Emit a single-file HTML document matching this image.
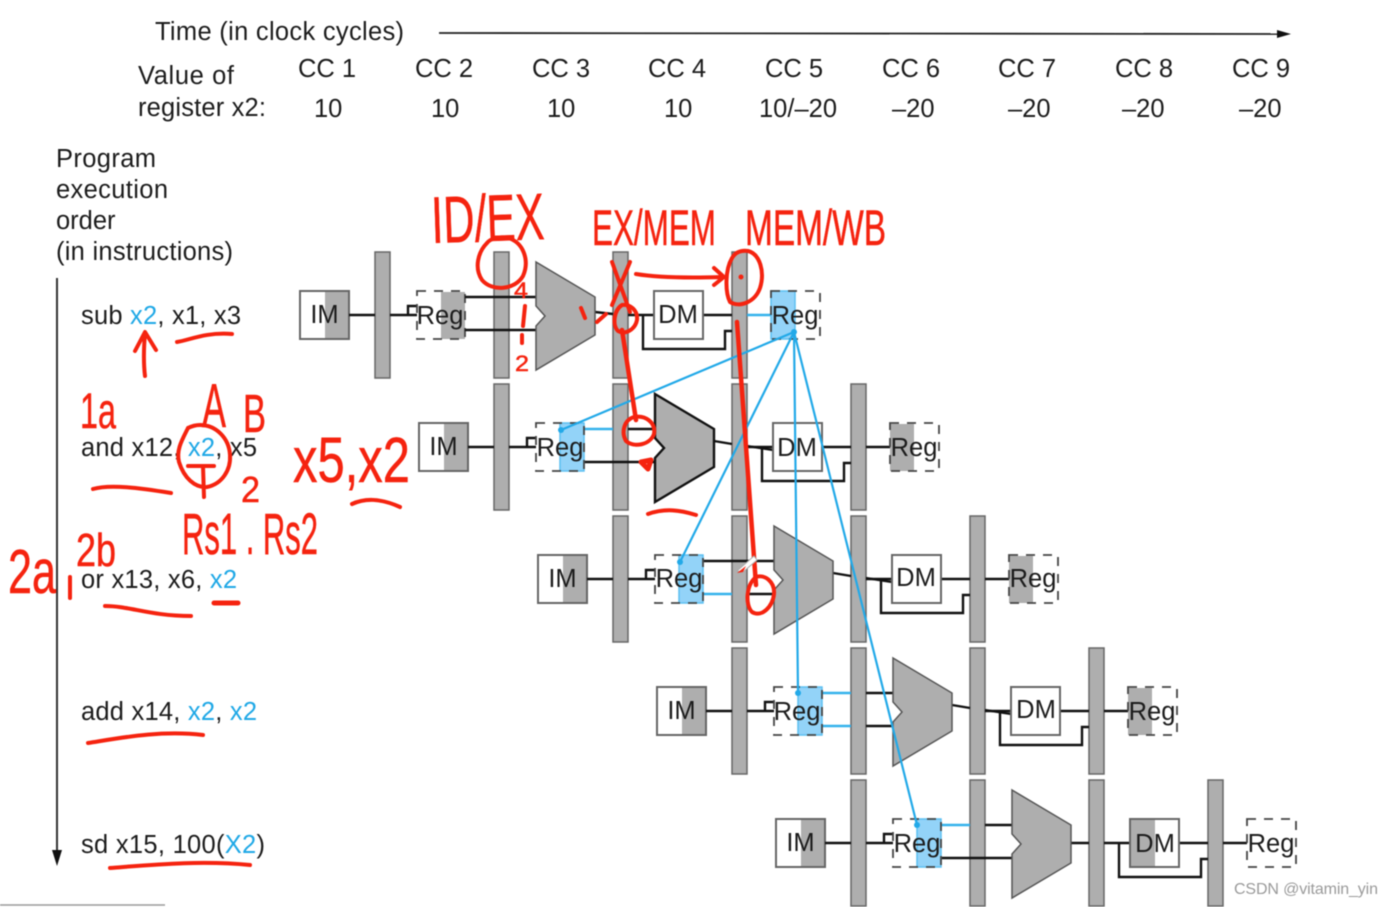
<!DOCTYPE html>
<html><head><meta charset="utf-8"><style>
html,body{margin:0;padding:0;background:#fff;width:1392px;height:907px;overflow:hidden}
svg{display:block;filter:blur(.5px)}
text{font-family:"Liberation Sans",sans-serif;font-size:25.5px;fill:#1c1c1c}
.b{fill:#1fa8e6}
.w{fill:#fff;stroke:#666;stroke-width:2}
.g{fill:#aeaeae}
.bar{fill:#aeaeae;stroke:#666;stroke-width:1.5}
.dash{fill:none;stroke:#444;stroke-width:1.8;stroke-dasharray:9 8}
.l{fill:none;stroke:#111;stroke-width:2.4}
.bl{fill:none;stroke:#35b2ec;stroke-width:2.4}
.blue{fill:#93d3f8;stroke:#5cc0f2;stroke-width:1.5}
.alu{fill:#aeaeae;stroke:#555;stroke-width:1.5}
.r{fill:none;stroke:#f5230f;stroke-width:4;stroke-linecap:round;stroke-linejoin:round}
.hw text{fill:#f5230f;stroke:#f5230f;stroke-width:.5}
</style></head><body>
<svg width="1392" height="907" viewBox="0 0 1392 907" xmlns="http://www.w3.org/2000/svg">
<defs>
<g id="bars">
<rect class="bar" x="375" y="252" width="15" height="126"/>
<rect class="bar" x="494" y="252" width="15" height="126"/>
<rect class="bar" x="613" y="252" width="15" height="126"/>
<rect class="bar" x="732" y="252" width="15" height="126"/>
</g>
<g id="im">
<rect class="w" x="300" y="291" width="49" height="48"/>
<rect class="g" x="325" y="292" width="23" height="46"/>
<path class="l" d="M349 315H375M390 315H417M408 315V306H417"/>
</g>
<g id="tail">
<path class="l" d="M628 315H654M703 315H732M643 315V349H725V331H732"/>
</g>
<path id="alushape" class="alu" d="M536 262L595 297V335L536 370V326L545 316L536 306Z"/>
</defs>

<!-- header -->
<text x="155" y="40" textLength="249">Time (in clock cycles)</text>
<path d="M439 33L1280 34" stroke="#222" stroke-width="1.8"/>
<path d="M1291 34L1277 30V38Z" fill="#111"/>
<text x="138" y="84" textLength="96">Value of</text>
<text x="138" y="116" textLength="128">register x2:</text>
<text x="298" y="77">CC 1</text><text x="415" y="77">CC 2</text><text x="532" y="77">CC 3</text>
<text x="648" y="77">CC 4</text><text x="765" y="77">CC 5</text><text x="882" y="77">CC 6</text>
<text x="998" y="77">CC 7</text><text x="1115" y="77">CC 8</text><text x="1232" y="77">CC 9</text>
<text x="314" y="117">10</text><text x="431" y="117">10</text><text x="547" y="117">10</text><text x="664" y="117">10</text>
<text x="759" y="117" textLength="78">10/–20</text>
<text x="892" y="117">–20</text><text x="1008" y="117">–20</text><text x="1122" y="117">–20</text><text x="1239" y="117">–20</text>

<text x="56" y="167" textLength="100">Program</text><text x="56" y="198" textLength="112">execution</text><text x="56" y="229">order</text>
<text x="56" y="260" textLength="177">(in instructions)</text>
<path d="M57 278V855" stroke="#333" stroke-width="2"/>
<path d="M57 866L52 850H62Z" fill="#111"/>
<path d="M0 905H165" stroke="#999" stroke-width="1.5"/>

<text x="81" y="324" textLength="160">sub <tspan class="b">x2</tspan>, x1, x3</text>
<text x="81" y="456" textLength="176">and x12, <tspan class="b">x2</tspan>, x5</text>
<text x="81" y="588" textLength="156">or x13, x6, <tspan class="b">x2</tspan></text>
<text x="81" y="720" textLength="176">add x14, <tspan class="b">x2</tspan>, <tspan class="b">x2</tspan></text>
<text x="81" y="853" textLength="184">sd x15, 100(<tspan class="b">X2</tspan>)</text>

<!-- row 1 -->
<g>
<use href="#bars"/><use href="#im"/>
<rect class="g" x="441" y="292" width="24" height="47"/>
<rect class="dash" x="417" y="291" width="48" height="48"/>
<path class="l" d="M465 297H536M465 330H536M595 312L613 314"/>
<use href="#tail"/>
<use href="#alushape"/>
<rect class="w" x="654" y="291" width="49" height="48"/>
<path class="bl" d="M747 315H771"/>
<rect class="blue" x="771" y="291" width="24" height="48"/>
<rect class="dash" x="771" y="291" width="49" height="48"/>
<text x="324.5" y="323" text-anchor="middle">IM</text>
<text x="440" y="324" text-anchor="middle">Reg</text>
<text x="678" y="323" text-anchor="middle">DM</text>
<text x="795" y="324" text-anchor="middle">Reg</text>
</g>
<!-- row 2 -->
<g transform="translate(119 132)">
<use href="#bars"/><use href="#im"/>
<path class="l" d="M465 330H536M595 309L613 312M628 314L654 318"/>
<path class="bl" d="M465 297H494"/><path class="l" d="M509 297H536"/>
<use href="#tail"/>
<path class="alu" style="stroke:#111;stroke-width:2.4" d="M536 262L595 297V335L536 370V326L545 316L536 306Z"/>
<rect class="w" x="654" y="291" width="49" height="48"/>
<rect class="g" x="771" y="292" width="24" height="47"/>
<path class="l" d="M747 315H771"/>
<rect class="dash" x="771" y="291" width="49" height="48"/>
<rect class="blue" x="441" y="291" width="24" height="48"/>
<rect class="dash" x="417" y="291" width="48" height="48"/>
<text x="324.5" y="323" text-anchor="middle">IM</text>
<text x="441" y="324" text-anchor="middle">Reg</text>
<text x="678" y="324" text-anchor="middle">DM</text>
<text x="795" y="324" text-anchor="middle">Reg</text>
</g>
<!-- row 3 -->
<g transform="translate(238 264)">
<use href="#bars"/><use href="#im"/>
<path class="l" d="M465 297H536M509 330H536M595 309L613 312M628 314L654 318"/>
<path class="bl" d="M465 330H494"/>
<use href="#tail"/>
<use href="#alushape"/>
<rect class="w" x="654" y="291" width="49" height="48"/>
<rect class="g" x="771" y="292" width="24" height="47"/>
<path class="l" d="M747 315H771"/>
<rect class="dash" x="771" y="291" width="49" height="48"/>
<rect class="blue" x="441" y="291" width="24" height="48"/>
<rect class="dash" x="417" y="291" width="48" height="48"/>
<text x="324.5" y="323" text-anchor="middle">IM</text>
<text x="441" y="323" text-anchor="middle">Reg</text>
<text x="678" y="322" text-anchor="middle">DM</text>
<text x="795" y="323" text-anchor="middle">Reg</text>
</g>
<!-- row 4 -->
<g transform="translate(357 396)">
<use href="#bars"/><use href="#im"/>
<path class="l" d="M509 297H536M509 330H536M595 309L613 312M628 314L654 318"/>
<path class="bl" d="M465 297H494M465 330H494"/>
<use href="#tail"/>
<use href="#alushape"/>
<rect class="w" x="654" y="291" width="49" height="48"/>
<rect class="g" x="771" y="292" width="24" height="47"/>
<path class="l" d="M747 315H771"/>
<rect class="dash" x="771" y="291" width="49" height="48"/>
<rect class="blue" x="441" y="291" width="24" height="48"/>
<rect class="dash" x="417" y="291" width="48" height="48"/>
<text x="324.5" y="323" text-anchor="middle">IM</text>
<text x="440" y="324" text-anchor="middle">Reg</text>
<text x="679" y="322" text-anchor="middle">DM</text>
<text x="795" y="324" text-anchor="middle">Reg</text>
</g>
<!-- row 5 -->
<g transform="translate(476 528)">
<use href="#bars"/><use href="#im"/>
<path class="l" d="M509 297H536M465 330H536M595 315H613"/>
<path class="bl" d="M465 297H494"/>
<use href="#tail"/>
<use href="#alushape"/>
<rect class="w" x="654" y="291" width="49" height="48"/>
<rect class="g" x="655" y="292" width="24" height="46"/>
<path class="l" d="M747 315H771"/>
<rect class="dash" x="771" y="291" width="49" height="48"/>
<rect class="blue" x="441" y="291" width="24" height="48"/>
<rect class="dash" x="417" y="291" width="48" height="48"/>
<text x="324.5" y="323" text-anchor="middle">IM</text>
<text x="441" y="324" text-anchor="middle">Reg</text>
<text x="679" y="324" text-anchor="middle">DM</text>
<text x="795" y="324" text-anchor="middle">Reg</text>
</g>

<!-- forwarding lines -->
<g fill="none" stroke="#22a9e8" stroke-width="2.2">
<path d="M794 332L561 430M794 332L680 562M794 332L798 693M794 332L917 825"/>
</g>
<g fill="#22a9e8"><circle cx="794" cy="332" r="3"/><circle cx="561" cy="430" r="3"/><circle cx="680" cy="562" r="3"/><circle cx="798" cy="693" r="3"/><circle cx="917" cy="825" r="3"/></g>

<!-- watermark -->
<text x="1234" y="894" textLength="144" style="font-size:16px;fill:#9a9a9a">CSDN @vitamin_yin</text>

<!-- handwritten annotations -->
<g class="hw">
<text transform="translate(432 243) rotate(-2)" textLength="113" lengthAdjust="spacingAndGlyphs" style="font-size:66px">ID/EX</text>
<text x="592" y="245" textLength="124" lengthAdjust="spacingAndGlyphs" style="font-size:50px">EX/MEM</text>
<text x="745" y="245" textLength="141" lengthAdjust="spacingAndGlyphs" style="font-size:50px">MEM/WB</text>
<text x="80" y="428" textLength="36" lengthAdjust="spacingAndGlyphs" style="font-size:50px">1a</text>
<text x="202" y="427" textLength="24" lengthAdjust="spacingAndGlyphs" style="font-size:62px">A</text>
<text x="243" y="432" textLength="23" lengthAdjust="spacingAndGlyphs" style="font-size:54px">B</text>
<text x="293" y="482" textLength="117" lengthAdjust="spacingAndGlyphs" style="font-size:64px">x5,x2</text>
<text x="182" y="554" textLength="136" lengthAdjust="spacingAndGlyphs" style="font-size:58px">Rs1 . Rs2</text>
<text x="8" y="593" textLength="48" lengthAdjust="spacingAndGlyphs" style="font-size:62px">2a</text>
<text x="76" y="566" textLength="40" lengthAdjust="spacingAndGlyphs" style="font-size:46px">2b</text>
<text x="241" y="502" textLength="19" lengthAdjust="spacingAndGlyphs" style="font-size:36px">2</text>
<text x="514" y="298" textLength="14" lengthAdjust="spacingAndGlyphs" style="font-size:22px">4</text>
<text x="515" y="371" textLength="14" lengthAdjust="spacingAndGlyphs" style="font-size:22px">2</text>
</g>
<path class="r" d="M145 376C143 360 144 345 145 333M135 351L145 332L156 350"/>
<path class="r" d="M177 342C190 340 205 332 232 334"/>
<path class="r" d="M93 489C110 484 140 488 171 493"/>
<path class="r" d="M188 428C182 440 176 450 179 462C184 478 195 488 207 487C222 484 231 470 230 455C229 438 216 425 200 425C195 425 190 427 188 428"/>
<path class="r" d="M188 466H214M203 466L204 497"/>
<path class="r" d="M352 504C365 498 380 498 400 507"/>
<path class="r" d="M70 577C70 585 70 590 70 598"/>
<path class="r" d="M105 606C130 606 150 616 191 616"/>
<path class="r" style="stroke-width:5" d="M214 603L238 603"/>
<path class="r" d="M88 743C120 738 160 730 203 735"/>
<path class="r" d="M110 868C150 865 200 860 250 865"/>
<path class="r" d="M648 514C665 508 680 510 696 515"/>
<path class="r" d="M487 243C478 252 474 268 482 280C492 292 515 290 523 276C530 260 523 242 508 238C498 236 490 239 487 243"/>
<path class="r" d="M732 258C725 270 725 292 730 302C740 308 755 302 760 288C765 272 760 254 748 251C740 250 735 253 732 258"/>
<path class="r" d="M622 305C614 310 612 325 618 331C625 335 635 330 637 320C638 310 630 304 622 305"/>
<path class="r" d="M634 417C624 420 621 432 626 441C634 448 650 445 654 434C656 422 645 415 634 417"/>
<path class="r" d="M756 577C746 585 745 605 752 612C762 618 773 606 774 594C775 582 765 574 756 577"/>
<path class="r" d="M612 262L630 312M630 262L612 305"/>
<path class="r" d="M636 274C660 278 690 278 722 277M714 268L724 277L714 285"/>
<path class="r" style="stroke-width:4.5" d="M622 330L636 420"/>
<path class="r" style="stroke-width:4.5" d="M737 322L756 585"/>
<path class="r" d="M525 306L523 326M522 335V343"/>
<circle cx="741" cy="277" r="2.5" fill="#f5230f"/>
<path class="r" d="M581 308L585 318M597 322L606 314"/>
<path class="r" style="stroke-width:5" d="M641 462L651 460L648 469Z"/>
<path d="M737 571L754 556L757 560L743 572Z" fill="#fff" stroke="#aaa"/>
<path d="M737 573L746 566L743 572Z" fill="#f5230f"/>
</svg>
</body></html>
